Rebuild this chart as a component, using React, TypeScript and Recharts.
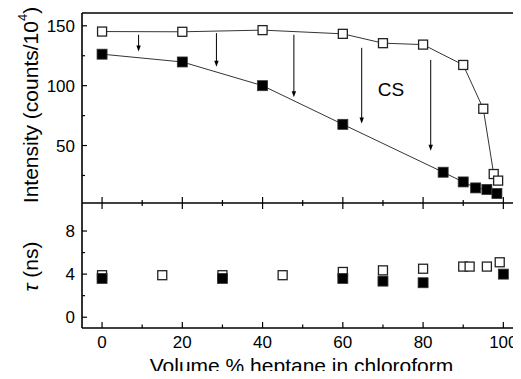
import { ScatterChart, Scatter, XAxis, YAxis, ReferenceLine, ReferenceDot, Label } from 'recharts'

const FONT = '"Liberation Sans", Arial, Helvetica, sans-serif'
const INK = '#000'

// shared x axis: volume % heptane
const xDomain = [-5, 104.4]
const xTicks = [0, 10, 20, 30, 40, 50, 60, 70, 80, 90, 100]
const xLabelTicks = [0, 20, 40, 60, 80, 100]

const intensityDomain = [2, 160.7]
const intensityTicks = [25, 50, 75, 100, 125, 150]
const intensityLabelTicks = [50, 100, 150]

const tauDomain = [-1, 10.6]
const tauTicks = [0, 2, 4, 6, 8]
const tauLabelTicks = [0, 4, 8]

// intensity (counts/10^4), open squares
const openPct = [0, 20, 40, 60, 70, 80, 90, 95, 97.6, 98.7]
const openIntensity = [145.2, 145, 146.4, 143.3, 135.5, 134.3, 117.3, 80.7, 26.2, 20.7]

// intensity, filled squares
const filledPct = [0, 20, 40, 60, 85, 90, 93.1, 95.9, 98.4]
const filledIntensity = [126.3, 119.8, 100, 67.7, 27.7, 19.6, 14.6, 13.3, 9.9]

// lifetimes tau (ns)
const openTauPct = [0, 15, 30, 45, 60, 70, 80, 90, 91.6, 95.9, 99.1]
const openTau = [3.9, 3.9, 3.9, 3.9, 4.2, 4.35, 4.5, 4.7, 4.7, 4.7, 5.1]
const filledTauPct = [0, 30, 60, 70, 80, 100]
const filledTau = [3.6, 3.6, 3.6, 3.35, 3.2, 4.0]

// downward arrows between the two intensity curves
const arrowPct = [9.1, 28.5, 47.8, 64.7, 81.9]
const arrowFrom = [142.5, 143.9, 142.5, 131.6, 121.5]
const arrowTo = [128.5, 115.9, 90.3, 68.5, 45.6]

const zip = (xs: number[], ys: number[]) => xs.map((x, i) => ({ x, y: ys[i] }))

const openData = zip(openPct, openIntensity)
const filledData = zip(filledPct, filledIntensity)
const openTauData = zip(openTauPct, openTau)
const filledTauData = zip(filledTauPct, filledTau)

const OpenSquare = (p: any) => (
  <rect x={p.cx - 4.5} y={p.cy - 4.5} width={9} height={9} fill="#fff" stroke="#222" strokeWidth={1.3} />
)
const FilledSquare = (p: any) => (
  <rect x={p.cx - 5} y={p.cy - 5} width={10} height={10} fill="#000" stroke="#333" strokeWidth={0.8} />
)

const Arrow = (p: any) => {
  const { x1, y1, x2, y2 } = p
  return (
    <g>
      <line x1={x1} y1={y1} x2={x2} y2={y2 - 4} stroke={INK} strokeWidth={1} />
      <path d={`M${x2},${y2} L${x2 - 2.2},${y2 - 6} L${x2 + 2.2},${y2 - 6} Z`} fill={INK} />
    </g>
  )
}

// tick marks are drawn as short pieces of reference lines
const yTickMark = (len: number) => (p: any) => {
  const x = Math.min(p.x1, p.x2)
  return <path d={`M${x},${p.y1}h${len}`} stroke={INK} strokeWidth={1.2} fill="none" />
}
// ticks pointing up from the bottom edge
const xTickUp = (len: number) => (p: any) => {
  const y = Math.max(p.y1, p.y2)
  return <path d={`M${p.x1},${y}v${-len}`} stroke={INK} strokeWidth={1.2} fill="none" />
}
// ticks crossing the bottom edge (shared axis between panels)
const xTickCross = (len: number) => (p: any) => {
  const y = Math.max(p.y1, p.y2)
  return <path d={`M${p.x1},${y - len}v${2 * len}`} stroke={INK} strokeWidth={1.2} fill="none" />
}

const frame = { stroke: INK, strokeWidth: 1.6 }

const TICK_GAP = 7

const LeftLabel = (p: any) => {
  if (!p.labelled.includes(p.payload.value)) return <g />
  return (
    <text x={p.x} y={p.y} dy="0.36em" textAnchor="end" fontSize={17} fontFamily={FONT} fill={INK}>
      {p.payload.value}
    </text>
  )
}

const BottomLabel = (p: any) => {
  if (!xLabelTicks.includes(p.payload.value)) return <g />
  return (
    <text x={p.x} y={p.y} dy="0.71em" textAnchor="middle" fontSize={17} fontFamily={FONT} fill={INK}>
      {p.payload.value}
    </text>
  )
}

const IntensityTitle = (p: any) => {
  const { x, y, height } = p.viewBox
  const cx = x + 8
  const cy = y + height / 2 - 3
  return (
    <text x={cx} y={cy} transform={`rotate(-90, ${cx}, ${cy})`} textAnchor="middle" dominantBaseline="central"
      fontSize={21} fontFamily={FONT} fill={INK}>
      Intensity (counts/10
      <tspan dy={-8} fontSize={13}>4</tspan>
      <tspan dy={8} fontSize={21}>)</tspan>
    </text>
  )
}

const TauTitle = (p: any) => {
  const { x, y, height } = p.viewBox
  const cx = x + 8
  const cy = y + height / 2 + 1
  return (
    <text x={cx} y={cy} transform={`rotate(-90, ${cx}, ${cy})`} textAnchor="middle" dominantBaseline="central"
      fontSize={21} fontFamily={FONT} fill={INK}>
      <tspan fontStyle="italic">τ</tspan> (ns)
    </text>
  )
}

const XTitle = (p: any) => {
  const { x, y, width } = p.viewBox
  return (
    <text x={x + width / 2} y={y + 45} textAnchor="middle" fontSize={21} fontFamily={FONT} fill={INK}>
      Volume % heptane in chloroform
    </text>
  )
}

export default function App() {
  return (
    <div style={{ position: 'relative', width: 521, height: 379, margin: -8, overflow: 'hidden', background: '#fff' }}>
      <div style={{ position: 'absolute', left: 0, top: 0 }}>
        <ScatterChart width={521} height={213} margin={{ top: 13, right: 0, bottom: 10, left: 22 }}>
          <XAxis type="number" dataKey="x" domain={xDomain} ticks={xTicks} allowDataOverflow
            height={0} tick={false} tickLine={false} axisLine={false} />
          <YAxis type="number" dataKey="y" domain={intensityDomain} ticks={intensityTicks} allowDataOverflow interval={0}
            width={60} tickSize={0} tickMargin={TICK_GAP} tickLine={false} axisLine={false}
            tick={(p: any) => <LeftLabel {...p} labelled={intensityLabelTicks} />}>
            <Label content={IntensityTitle} />
          </YAxis>
          <ReferenceLine x={xDomain[0]} {...frame} />
          <ReferenceLine y={intensityDomain[1]} {...frame} />
          <ReferenceLine y={intensityDomain[0]} {...frame} />
          {intensityTicks.map((t) => (
            <ReferenceLine key={t} y={t} shape={yTickMark(intensityLabelTicks.includes(t) ? 5 : 3)} />
          ))}
          {xTicks.map((t) => (
            <ReferenceLine key={t} x={t} shape={xTickCross(xLabelTicks.includes(t) ? 6 : 3)} />
          ))}
          {arrowPct.map((x, i) => (
            <ReferenceLine key={x} segment={[{ x, y: arrowFrom[i] }, { x, y: arrowTo[i] }]} shape={Arrow} />
          ))}
          <ReferenceDot x={72} y={96.6} r={0} fill="none" stroke="none"
            label={{ value: 'CS', position: 'center', fontSize: 19, fontFamily: FONT, fill: INK }} />
          <Scatter data={openData} shape={OpenSquare} line={{ stroke: INK, strokeWidth: 0.8 }} isAnimationActive={false} />
          <Scatter data={filledData} shape={FilledSquare} line={{ stroke: INK, strokeWidth: 0.8 }} isAnimationActive={false} />
        </ScatterChart>
      </div>
      <div style={{ position: 'absolute', left: 0, top: 203 }}>
        <ScatterChart width={521} height={176} margin={{ top: 0, right: 0, bottom: 0, left: 22 }}>
          <XAxis type="number" dataKey="x" domain={xDomain} ticks={xTicks} allowDataOverflow interval={0}
            height={51} tickSize={0} tickMargin={8} tickLine={false} axisLine={false} tick={<BottomLabel />}>
            <Label content={XTitle} />
          </XAxis>
          <YAxis type="number" dataKey="y" domain={tauDomain} ticks={tauTicks} allowDataOverflow interval={0}
            width={60} tickSize={0} tickMargin={TICK_GAP} tickLine={false} axisLine={false}
            tick={(p: any) => <LeftLabel {...p} labelled={tauLabelTicks} />}>
            <Label content={TauTitle} />
          </YAxis>
          <ReferenceLine x={xDomain[0]} {...frame} />
          <ReferenceLine y={tauDomain[0]} {...frame} />
          {tauTicks.map((t) => (
            <ReferenceLine key={t} y={t} shape={yTickMark(tauLabelTicks.includes(t) ? 5 : 3)} />
          ))}
          {xTicks.map((t) => (
            <ReferenceLine key={t} x={t} shape={xTickUp(xLabelTicks.includes(t) ? 6 : 3.5)} />
          ))}
          <Scatter data={openTauData} shape={OpenSquare} isAnimationActive={false} />
          <Scatter data={filledTauData} shape={FilledSquare} isAnimationActive={false} />
        </ScatterChart>
      </div>
    </div>
  )
}
